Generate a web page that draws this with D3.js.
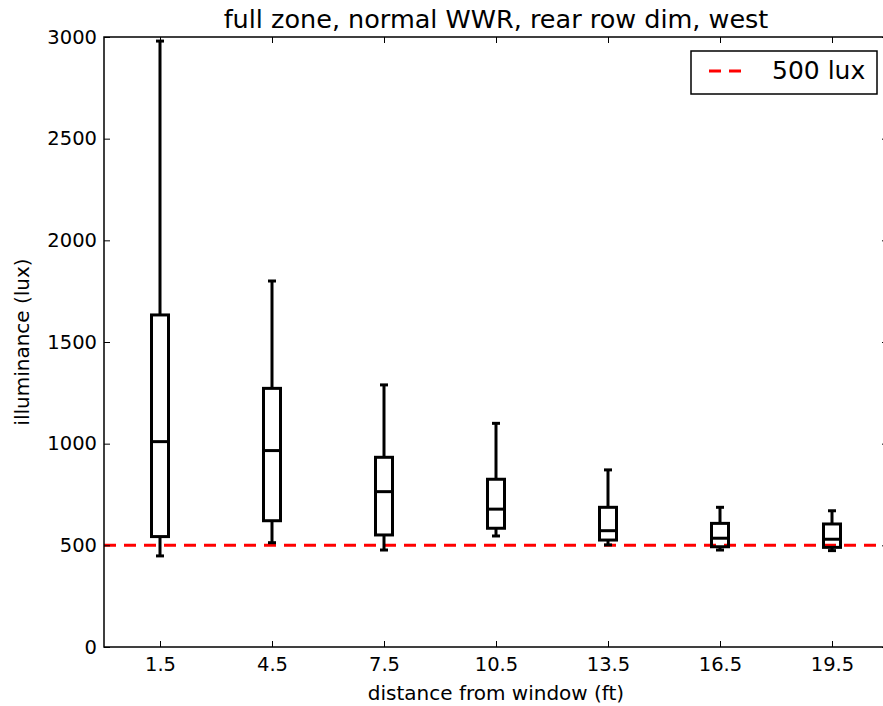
<!DOCTYPE html>
<html><head><meta charset="utf-8">
<script src="https://cdn.jsdelivr.net/npm/d3@7/dist/d3.min.js"></script>
<style>body{margin:0;background:#fff}svg{display:block;font-family:"DejaVu Sans",sans-serif}</style>
</head><body><svg id="c" width="883" height="706"></svg>
<script>
const categories = ["1.5","4.5","7.5","10.5","13.5","16.5","19.5"];
const whiskerLow  = [448, 513, 477, 546, 502, 477, 474];
const q1          = [543, 621, 551, 584, 526, 493, 490];
const median      = [1010, 966, 764, 678, 572, 535, 530];
const q3          = [1633, 1272, 933, 825, 687, 608, 605];
const whiskerHigh = [2980, 1800, 1289, 1100, 871, 687, 670];
const yTicks = [0, 500, 1000, 1500, 2000, 2500, 3000];
const threshold = 500;

const svg = d3.select("#c");
const L = 104, R = 888, T = 37, B = 647;
const x = d3.scaleLinear().domain([0.5, 7.5]).range([L, R]);
const y = d3.scaleLinear().domain([0, 3000]).range([B, T]);

svg.append("defs").append("clipPath").attr("id","clip")
  .append("rect").attr("x",L).attr("y",T).attr("width",R-L).attr("height",B-T);

const g = svg.append("g");
const pos = i => x(i + 1);

// threshold line
g.append("line").attr("clip-path","url(#clip)")
  .attr("x1", L).attr("x2", R).attr("y1", y(threshold)).attr("y2", y(threshold))
  .attr("stroke", "#ff0000").attr("stroke-width", 3).attr("stroke-dasharray", "12,8");

const bw = 17, cw = 8;
categories.forEach((c, i) => {
  const cx = pos(i);
  const gg = g.append("g").attr("stroke","#000").attr("stroke-width",3).attr("fill","none");
  gg.append("line").attr("x1",cx).attr("x2",cx).attr("y1",y(q3[i])).attr("y2",y(whiskerHigh[i]));
  gg.append("line").attr("x1",cx).attr("x2",cx).attr("y1",y(q1[i])).attr("y2",y(whiskerLow[i]));
  gg.append("line").attr("x1",cx-cw/2).attr("x2",cx+cw/2).attr("y1",y(whiskerHigh[i])).attr("y2",y(whiskerHigh[i]));
  gg.append("line").attr("x1",cx-cw/2).attr("x2",cx+cw/2).attr("y1",y(whiskerLow[i])).attr("y2",y(whiskerLow[i]));
  gg.append("rect").attr("x",cx-bw/2).attr("width",bw).attr("y",y(q3[i])).attr("height",y(q1[i])-y(q3[i]));
  gg.append("line").attr("x1",cx-bw/2).attr("x2",cx+bw/2).attr("y1",y(median[i])).attr("y2",y(median[i]));
});

// frame
svg.append("rect").attr("x",L).attr("y",T).attr("width",R-L).attr("height",B-T)
  .attr("fill","none").attr("stroke","#000").attr("stroke-width",1.5);

// y axis
const yAxisL = d3.axisLeft(y).tickValues(yTicks).tickSize(-6).tickPadding(7).tickFormat(d3.format("d"));
const ya = svg.append("g").attr("transform",`translate(${L},0)`).call(yAxisL);
ya.select(".domain").remove();
ya.selectAll("text").attr("font-size",19.5).attr("fill","#000").attr("font-family","DejaVu Sans");
const yAxisR = d3.axisRight(y).tickValues(yTicks).tickSize(-6).tickFormat("");
const yr = svg.append("g").attr("transform",`translate(${R},0)`).call(yAxisR);
yr.select(".domain").remove();

// x axis
const xAxisB = d3.axisBottom(x).tickValues(d3.range(1, 8)).tickSize(-6).tickPadding(10)
  .tickFormat(d => categories[d-1]);
const xa = svg.append("g").attr("transform",`translate(0,${B})`).call(xAxisB);
xa.select(".domain").remove();
xa.selectAll("text").attr("font-size",19.5).attr("fill","#000").attr("font-family","DejaVu Sans");
const xAxisT = d3.axisTop(x).tickValues(d3.range(1, 8)).tickSize(-6).tickFormat("");
const xt = svg.append("g").attr("transform",`translate(0,${T})`).call(xAxisT);
xt.select(".domain").remove();
svg.selectAll(".tick line").attr("stroke","#000").attr("stroke-width",1);

// title and labels
svg.append("text").attr("x",496).attr("y",28).attr("text-anchor","middle")
  .attr("font-size",25.5).text("full zone, normal WWR, rear row dim, west");
svg.append("text").attr("x",496).attr("y",700).attr("text-anchor","middle")
  .attr("font-size",20).text("distance from window (ft)");
svg.append("text").attr("transform",`translate(29,${(T+B)/2}) rotate(-90)`).attr("text-anchor","middle")
  .attr("font-size",20).text("illuminance (lux)");

// legend
const lg = svg.append("g");
lg.append("rect").attr("x",691).attr("y",51).attr("width",186).attr("height",43)
  .attr("fill","#fff").attr("stroke","#000").attr("stroke-width",1.5);
lg.append("line").attr("x1",709).attr("x2",742).attr("y1",71).attr("y2",71)
  .attr("stroke","#ff0000").attr("stroke-width",3).attr("stroke-dasharray","12,8");
lg.append("text").attr("x",772).attr("y",79).attr("font-size",25).text("500 lux");
</script></body></html>
